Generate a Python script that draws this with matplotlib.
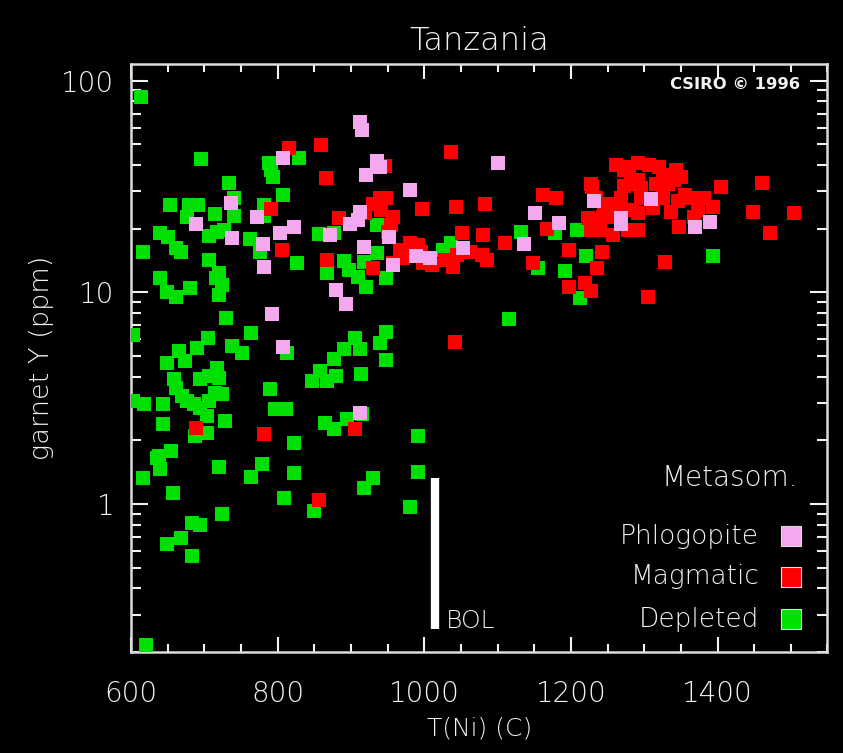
import numpy as np
import matplotlib
matplotlib.use("Agg")
import matplotlib.pyplot as plt
from matplotlib.ticker import FixedLocator, LogLocator, NullFormatter

# (T(Ni) in C, garnet Y in ppm)
depleted = [
    (614, 84), (695, 42.7), (788, 41), (791, 38), (794, 35), (829, 43), (734, 33),
    (808, 28.8), (653, 25.8), (679, 25.8), (691, 26), (676, 22.7), (740, 28), (740, 23),
    (714, 23.4), (781, 25.8), (781, 23), (639, 19), (651, 18.2), (661, 16.2), (668, 15.6),
    (707, 18.4), (717, 19.2), (727, 19.8), (762, 17.8), (776, 15.5), (857, 18.8), (877, 19),
    (617, 15.5), (707, 14.2), (827, 13.7), (890, 14), (918, 13.9), (640, 11.7), (649, 10),
    (661, 9.5), (681, 10.5), (716, 11.7), (720, 12.3), (724, 10.8), (720, 9.7), (729, 7.6),
    (868, 12.4), (898, 12.7), (909, 11.8), (921, 10.6), (935, 15.3), (948, 11.7), (936, 20.8),
    (1025, 15.8), (1037, 17.2), (1132, 19.2), (1179, 19), (1209, 19.8), (1220, 14.8),
    (1155, 13.1), (1192, 12.6), (1212, 9.4), (1116, 7.5), (1394, 14.8),
    (603, 6.3), (705, 6.1), (763, 6.45), (665, 5.3), (690, 5.45), (673, 4.76), (649, 4.65),
    (738, 5.6), (751, 5.2), (658, 3.9), (662, 3.55), (669, 3.25), (676, 3.08), (686, 2.98),
    (694, 2.85), (706, 3.08), (714, 3.36), (717, 4.4), (706, 4.05), (694, 3.9), (720, 3.95),
    (724, 3.3), (703, 2.6), (703, 2.17), (687, 2.1), (603, 3.08), (618, 2.98), (643, 2.98),
    (644, 2.4), (728, 2.47), (655, 1.78), (638, 1.69), (790, 3.5), (797, 2.82), (811, 2.82),
    (822, 1.95), (813, 5.2), (906, 6.1), (913, 5.4), (891, 5.4), (877, 4.85), (858, 4.27),
    (847, 3.83), (868, 3.83), (879, 4.04), (914, 4.1), (948, 6.5), (939, 5.75), (948, 4.8),
    (864, 2.42), (877, 2.26), (894, 2.53), (915, 2.67), (991, 2.1), (991, 1.42), (981, 0.97),
    (930, 1.33), (918, 1.19), (822, 1.4), (809, 1.07), (850, 0.93), (779, 1.55), (763, 1.34),
    (720, 1.5), (724, 0.9), (636, 1.65), (639, 1.46), (616, 1.33), (657, 1.13), (683, 0.81),
    (694, 0.8), (668, 0.69), (649, 0.65), (683, 0.57), (621, 0.217),
]

magmatic = [
    (815, 48), (859, 49.5), (866, 34.6), (884, 22.5), (806, 15.8), (868, 14.2), (791, 24.8),
    (919, 23.6), (930, 13), (946, 39.5), (930, 26.3), (939, 28), (948, 27.8), (941, 24.5),
    (957, 22.6), (955, 20.8), (950, 19.2), (997, 24.7), (1036, 46), (1043, 25.3), (1083, 26.3),
    (1162, 29), (1180, 27.8), (1229, 31.4), (967, 15.8), (980, 17.1), (991, 16.7), (971, 14.5),
    (957, 13.7), (998, 13.7), (1010, 13.5), (1028, 14.2), (1045, 15), (1062, 15.5), (1079, 15),
    (1086, 14.2), (1039, 13.2), (1051, 19), (1080, 18.6), (1110, 17.2), (1168, 20), (1149, 13.7),
    (1197, 15.8), (1224, 22.4), (1227, 19.7), (1243, 15.5), (1236, 13.1), (1197, 10.6),
    (1219, 11.1), (1227, 10.2), (1305, 9.5), (1329, 13.9), (1042, 5.8), (688, 2.3), (781, 2.15),
    (905, 2.27), (857, 1.04), (975, 15.2), (995, 15.6),
    (1261, 39.8), (1291, 41), (1306, 39.8), (1320, 39), (1343, 38), (1350, 35), (1326, 35.8),
    (1316, 32.7), (1292, 34), (1295, 31), (1282, 32.7), (1272, 32), (1268, 28), (1264, 26.3),
    (1254, 24.5), (1245, 26.3), (1234, 28), (1227, 32.7), (1326, 27.8), (1295, 28), (1284, 24.5),
    (1291, 23.6), (1251, 22.7), (1236, 21.9), (1240, 19.7), (1257, 18.6), (1278, 19.7),
    (1291, 19.7), (1347, 20.3), (1364, 28), (1355, 29), (1381, 27.8), (1394, 25.3), (1373, 24.5),
    (1368, 22.7), (1405, 31.4), (1461, 32.8), (1448, 24), (1505, 23.6), (1472, 19), (1346, 27),
    (1332, 32.7), (1341, 33.8), (1272, 38), (1279, 39), (1250, 24.5), (1244, 22.7), (1312, 25),
    (1336, 24),
]

phlogopite = [
    (912, 64), (915, 58.6), (808, 43), (936, 42), (939, 39), (920, 35.8), (980, 30.4),
    (1101, 41), (737, 26.4), (688, 21), (738, 18), (772, 22.7), (780, 17), (803, 19), (822, 20.3),
    (872, 18.6), (899, 21), (909, 22), (913, 24), (918, 16.4), (781, 13.2), (880, 10.3),
    (893, 8.8), (793, 7.9), (808, 5.5), (913, 2.7), (952, 18.2), (957, 13.5), (989, 14.8),
    (1008, 14.6), (1053, 16.3), (1136, 17), (1151, 23.6), (1184, 21.2), (1231, 27), (1309, 27.6),
    (1268, 22.4), (1268, 21), (1369, 20.3), (1390, 21.4),
]

series_names = ["Phlogopite", "Magmatic", "Depleted"]
series_colors = ["#f4a8f0", "#ff0000", "#00e000"]

xticks = [600, 800, 1000, 1200, 1400]
yticks = [1, 10, 100]
ytick_labels = ["1", "10", "100"]

bol_T = 1015
bol_range = (0.256, 1.33)

fg = "#f2f2f2"
plt.rcParams['font.family'] = ['DejaVu Sans']
plt.rcParams['font.weight'] = 'light'
plt.rcParams['axes.titleweight'] = 'light'
plt.rcParams['axes.labelweight'] = 'light'

fig = plt.figure(figsize=(8.43, 7.53), dpi=100, facecolor="black")
ax = fig.add_axes([0.1554, 0.1341, 0.8262, 0.7809], facecolor="black")

# draw order: depleted, magmatic, phlogopite on top
for data, col in [(depleted, series_colors[2]), (magmatic, series_colors[1]), (phlogopite, series_colors[0])]:
    d = np.array(data, dtype=float)
    ax.scatter(d[:, 0], d[:, 1], s=100, marker="s", c=col, linewidths=0, zorder=3)

ax.set_yscale("log")
ax.set_xlim(600, 1550)
ax.set_ylim(0.2, 120)

ax.xaxis.set_major_locator(FixedLocator(xticks))
ax.xaxis.set_minor_locator(FixedLocator(np.arange(600, 1551, 50)))
ax.yaxis.set_major_locator(FixedLocator(yticks))
ax.yaxis.set_minor_locator(LogLocator(base=10, subs=np.arange(2, 10)))
ax.yaxis.set_minor_formatter(NullFormatter())
ax.set_yticklabels(ytick_labels)

ax.tick_params(which="both", direction="in", top=True, right=True, colors=fg, width=1.5,
               labelsize=20, labelcolor=fg)
ax.tick_params(axis="x", which="major", length=11, pad=20)
ax.tick_params(axis="x", which="minor", length=6)
ax.tick_params(axis="y", which="major", length=12, pad=12)
ax.tick_params(axis="y", which="minor", length=7)
for sp in ax.spines.values():
    sp.set_color("#dcdcdc")
    sp.set_linewidth(1.8)

ax.set_xlabel("T(Ni) (C)", color=fg, fontsize=18, labelpad=6)
ax.set_ylabel("garnet Y (ppm)", color=fg, fontsize=19.5, labelpad=5)
ax.set_title("Tanzania", color=fg, fontsize=23, pad=10)

ax.text(0.960, 0.965, "CSIRO \u00a9 1996", transform=ax.transAxes, ha="right", va="center",
        color=fg, fontsize=11.8, fontweight="bold")

# BOL bar
ax.vlines(bol_T, bol_range[0], bol_range[1], color="white", linewidth=6, zorder=4)
ax.text(bol_T + 15, bol_range[0] * 1.09, "BOL", color=fg, fontsize=18, ha="left", va="center")

# legend drawn by hand: label left of a square
ax.text(0.957, 0.296, "Metasom.", transform=ax.transAxes, ha="right", va="center",
        color=fg, fontsize=20)
leg_y = [0.197, 0.128, 0.056]
for name, col, yy in zip(series_names, series_colors, leg_y):
    ax.text(0.902, yy, name, transform=ax.transAxes, ha="right", va="center",
            color=fg, fontsize=19)
    ax.scatter([0.947], [yy], s=210, marker="s", c=col, edgecolors="#dddddd",
               linewidths=0.8, transform=ax.transAxes, clip_on=False, zorder=5)

fig.savefig("out.png", dpi=100, facecolor="black")
